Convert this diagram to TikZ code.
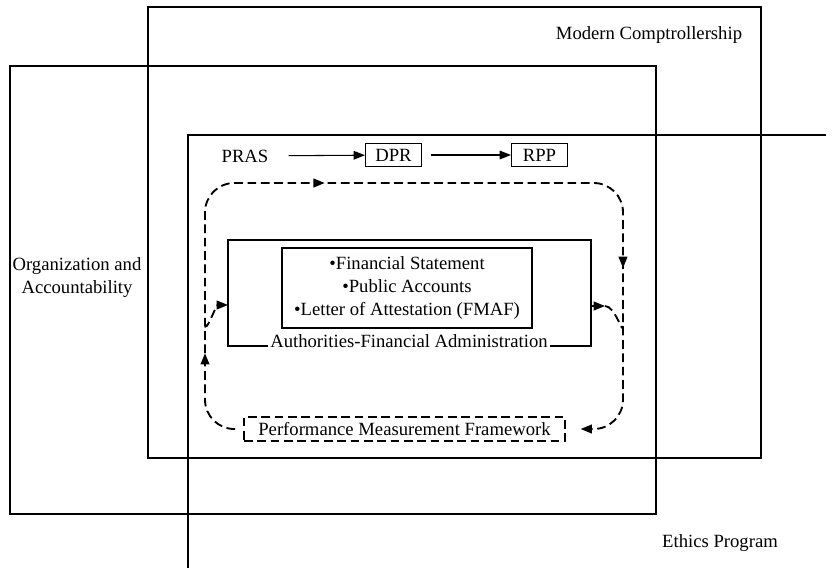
\documentclass[tikz,border=0pt]{standalone}
\usepackage{fontspec}
\setmainfont{Liberation Serif}
\usetikzlibrary{arrows.meta,decorations.markings}

\tikzset{
  lbl/.style={font=\fontsize{14}{17.25}\selectfont, inner sep=1pt},
  smallbox/.style={lbl, draw, line width=0.8pt, minimum width=42pt, minimum height=17pt, inner sep=0pt},
  dline/.style={line width=1.4pt, dash pattern=on 6.5pt off 3.5pt},
  tip/.style={-{Triangle[length=8.5pt,width=6.5pt]}},
  frame/.style={line width=1.1pt}
}

\begin{document}
\begin{tikzpicture}[x=0.75pt,y=0.75pt,yscale=-1,xscale=1]
\useasboundingbox (0,0) rectangle (838,578);

%Shape: Rectangle [Modern Comptrollership]
\draw[frame] (148,7) rectangle (761,458);
%Shape: Rectangle [Organization and Accountability]
\draw[frame] (10,66) rectangle (656,514);
%Straight Lines [Ethics Program]
\draw[frame] (826,135) -- (188,135) -- (188,568);

% Text Node
\node[lbl] (modcomp) at (649,35) {Modern Comptrollership};
% Text Node
\node[lbl] (ethics) at (720,543) {Ethics Program};
% Text Node
\node[lbl, align=center] (orgacc) at (77,278) {Organization and\\Accountability};

% Text Node
\node[lbl] (pras) at (245,156) {PRAS};
\node[smallbox] (dpr) at (393.5,155) {DPR};
\node[smallbox] (rpp) at (539.5,155) {RPP};
\draw[line width=0.8pt, tip, shorten <=14pt] (pras) -- (dpr);
\draw[line width=0.8pt, tip, shorten <=7pt] (dpr) -- (rpp);

%Shape: Rectangle [Authorities-Financial Administration]
\draw[frame] (228,240) rectangle (591,346);
\coordinate (afaW) at (228,305);
\coordinate (afaE) at (591,306);
\node[lbl, fill=white, inner sep=2pt] (afa) at (409,341) {Authorities-Financial Administration};

% Text Node
\node[lbl, draw, line width=1.1pt, align=center, minimum width=187.5pt, minimum height=60pt, inner sep=0pt] (fs) at (407,288)
  {\textbullet Financial Statement\\\textbullet Public Accounts\\\textbullet Letter of Attestation (FMAF)};

% Text Node
\node[lbl, draw, dline, minimum width=240.75pt, minimum height=18pt, inner sep=0pt] (pmf) at (404.5,429) {Performance Measurement Framework};

%Dashed loop
\draw[dline, tip, rounded corners=22pt, postaction={decorate},
  decoration={markings,
    mark=at position 70pt with {\arrow{Triangle[length=8.5pt,width=6.5pt]}},
    mark=at position 278pt with {\arrow{Triangle[length=8.5pt,width=6.5pt]}},
    mark=at position 556pt with {\arrow{Triangle[length=8.5pt,width=6.5pt]}}}]
  ([xshift=-6pt]pmf.west) -- (205,429) -- (205,183) -- (623,183) -- (623,429) -- ([xshift=11pt]pmf.east);

\coordinate (lj) at (205,324);
\coordinate (rj) at (623,326);
\coordinate (arrE) at (605,306);
\draw[dline, tip] (lj) to[out=90,in=180] (afaW);
\draw[dline, tip] (afaE) -- (arrE);
\draw[dline] (arrE) to[out=0,in=90] (rj);

\end{tikzpicture}
\end{document}
